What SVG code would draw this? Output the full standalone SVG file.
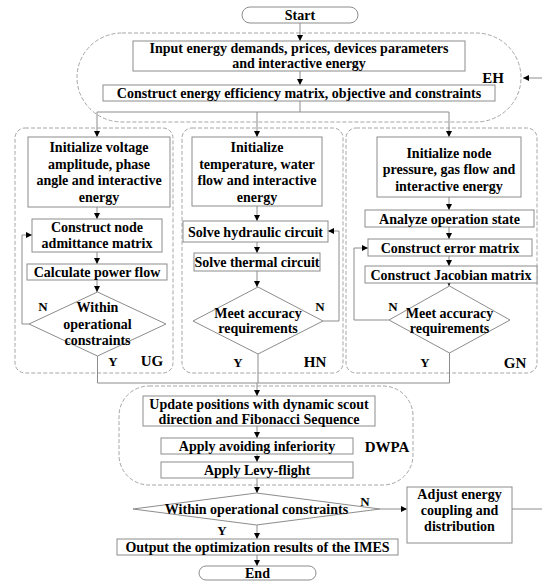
<svg xmlns="http://www.w3.org/2000/svg" width="542" height="581" viewBox="0 0 542 581">
<defs>
<marker id="ah" viewBox="0 0 6 6" refX="6" refY="3" markerWidth="6" markerHeight="6" orient="auto" markerUnits="userSpaceOnUse">
<path d="M0,0 L6,3 L0,6 Z" fill="#000"/>
</marker>
<style>
text{font-family:"Liberation Serif","Times New Roman",serif;font-weight:bold;font-size:14px;fill:#000;text-anchor:middle}
.lbl{font-size:15px}
.yn{font-size:13px}
.box{fill:#fff;stroke:#8c8c8c;stroke-width:1}
.reg{fill:none;stroke:#a6a6a6;stroke-width:1;stroke-dasharray:4 2}
.c{fill:none;stroke:#8c8c8c;stroke-width:1}
.a{marker-end:url(#ah)}
</style>
</defs>
<rect width="542" height="581" fill="#fff"/>

<g id="regions">
<rect id="EH" class="reg" x="77" y="33" width="444" height="89" rx="45" ry="45"/>
<rect id="UG" class="reg" x="15" y="128" width="158" height="245" rx="10"/>
<rect id="HN" class="reg" x="182" y="128" width="161" height="245" rx="10"/>
<rect id="GN" class="reg" x="346" y="128" width="191" height="245" rx="10"/>
<rect id="DWPA" class="reg" x="119" y="386" width="294" height="99" rx="30"/>
<text class="lbl" x="493" y="83">EH</text>
<text class="lbl" x="152" y="366">UG</text>
<text class="lbl" x="315" y="367">HN</text>
<text class="lbl" x="515" y="368">GN</text>
<text class="lbl" x="387" y="452">DWPA</text>
</g>

<g id="connectors">
<line class="c a" x1="300" y1="23" x2="300" y2="41"/>
<line class="c a" x1="300" y1="71" x2="300" y2="85"/>
<polyline class="c" points="300,101 300,112"/>
<line class="c" x1="97" y1="112" x2="449" y2="112"/>
<line class="c a" x1="97" y1="112" x2="97" y2="137"/>
<line class="c a" x1="257" y1="112" x2="257" y2="137"/>
<line class="c a" x1="449" y1="112" x2="449" y2="137"/>
<line class="c a" x1="542" y1="78" x2="523" y2="78"/>
<line class="c a" x1="97" y1="207" x2="97" y2="219"/>
<line class="c a" x1="97" y1="252" x2="97" y2="264"/>
<line class="c a" x1="97" y1="280" x2="97" y2="292"/>
<polyline class="c a" points="29,324 22,324 22,235 32,235"/>
<line class="c" x1="97.5" y1="356" x2="97.5" y2="383"/>
<line class="c a" x1="257" y1="206" x2="257" y2="221"/>
<line class="c a" x1="257" y1="242" x2="257" y2="253"/>
<line class="c a" x1="257" y1="271" x2="257" y2="287"/>
<polyline class="c a" points="323,321 339,321 339,231 328,231"/>
<line class="c" x1="258" y1="354" x2="258" y2="383"/>
<line class="c a" x1="449" y1="197" x2="449" y2="210"/>
<line class="c a" x1="449" y1="227" x2="449" y2="239"/>
<line class="c a" x1="449" y1="256" x2="449" y2="266"/>
<line class="c a" x1="449" y1="281" x2="449" y2="286"/>
<polyline class="c a" points="389,320 354,320 354,248 368,248"/>
<line class="c" x1="449.5" y1="353" x2="449.5" y2="383"/>
<line class="c" x1="97.5" y1="383" x2="449.5" y2="383"/>
<line class="c a" x1="257" y1="383" x2="257" y2="396"/>
<line class="c a" x1="257" y1="426" x2="257" y2="438"/>
<line class="c a" x1="257" y1="454" x2="257" y2="462"/>
<line class="c a" x1="257" y1="478" x2="257" y2="493"/>
<line class="c a" x1="380" y1="509" x2="407" y2="509"/>
<line class="c" x1="512" y1="509" x2="542" y2="509"/>
<line class="c a" x1="257" y1="525" x2="257" y2="539"/>
<line class="c a" x1="257" y1="555" x2="257" y2="566"/>
<text class="yn" x="43" y="311">N</text>
<text class="yn" x="113" y="366">Y</text>
<text class="yn" x="320" y="311">N</text>
<text class="yn" x="238" y="367">Y</text>
<text class="yn" x="393" y="311">N</text>
<text class="yn" x="425" y="367">Y</text>
<text class="yn" x="365" y="506">N</text>
<text class="yn" x="222" y="535">Y</text>
</g>

<g id="start"><rect class="box" x="242" y="7" width="116" height="16" rx="8"/><text x="300" y="20">Start</text></g>
<g id="input"><rect class="box" x="133" y="41" width="332" height="30"/><text x="299" y="53">Input energy demands, prices, devices parameters</text><text x="299" y="68">and interactive energy</text></g>
<g id="construct-eh"><rect class="box" x="103" y="85" width="392" height="16"/><text x="299" y="98">Construct energy efficiency matrix, objective and constraints</text></g>

<g id="ug-init"><rect class="box" x="28" y="137" width="142" height="70"/><text x="99" y="152">Initialize voltage</text><text x="99" y="168.5">amplitude, phase</text><text x="99" y="185">angle and interactive</text><text x="99" y="201.5">energy</text></g>
<g id="ug-admit"><rect class="box" x="32" y="219" width="130" height="33"/><text x="97" y="232">Construct node</text><text x="97" y="248">admittance matrix</text></g>
<g id="ug-flow"><rect class="box" x="27" y="264" width="140" height="16"/><text x="97" y="277">Calculate power flow</text></g>
<g id="ug-check"><polygon class="box" points="97.5,292 166,324 97.5,356 29,324"/><text x="97.5" y="311.5">Within</text><text x="97.5" y="328.5">operational</text><text x="97.5" y="345">constraints</text></g>

<g id="hn-init"><rect class="box" x="192" y="137" width="130" height="69"/><text x="257" y="152">Initialize</text><text x="257" y="168.5">temperature, water</text><text x="257" y="185">flow and interactive</text><text x="257" y="201.5">energy</text></g>
<g id="hn-hyd"><rect class="box" x="183" y="221" width="145" height="21"/><text x="255.5" y="236.5">Solve hydraulic circuit</text></g>
<g id="hn-therm"><rect class="box" x="194" y="253" width="126" height="18"/><text x="257" y="267">Solve thermal circuit</text></g>
<g id="hn-check"><polygon class="box" points="258,287 323,321 258,354 193,321"/><text x="258" y="317.5">Meet accuracy</text><text x="258" y="333">requirements</text></g>

<g id="gn-init"><rect class="box" x="377" y="137" width="144" height="60"/><text x="449" y="157.5">Initialize node</text><text x="449" y="174">pressure, gas flow and</text><text x="449" y="190.5">interactive energy</text></g>
<g id="gn-state"><rect class="box" x="365" y="210" width="169" height="17"/><text x="449.5" y="223.5">Analyze operation state</text></g>
<g id="gn-error"><rect class="box" x="368" y="239" width="164" height="17"/><text x="450" y="252.5">Construct error matrix</text></g>
<g id="gn-jac"><rect class="box" x="365" y="266" width="172" height="17"/><text x="451" y="279.5">Construct Jacobian matrix</text></g>
<g id="gn-check"><polygon class="box" points="449.5,286 510,320 449.5,353 389,320"/><text x="449.5" y="317.5">Meet accuracy</text><text x="449.5" y="333">requirements</text></g>

<g id="update"><rect class="box" x="143" y="396" width="232" height="30"/><text x="259" y="408.5">Update positions with dynamic scout</text><text x="259" y="423.5">direction and Fibonacci Sequence</text></g>
<g id="avoid"><rect class="box" x="161" y="438" width="192" height="16"/><text x="257" y="451">Apply avoiding inferiority</text></g>
<g id="levy"><rect class="box" x="161" y="462" width="192" height="16"/><text x="257" y="475">Apply Levy-flight</text></g>
<g id="final-check"><polygon class="box" points="256.5,493 380,509 256.5,525 133,509"/><text x="256.5" y="514">Within operational constraints</text></g>
<g id="adjust"><rect class="box" x="407" y="487" width="105" height="56"/><text x="459.5" y="498.5">Adjust energy</text><text x="459.5" y="514.5">coupling and</text><text x="459.5" y="530.5">distribution</text></g>
<g id="output"><rect class="box" x="117" y="539" width="281" height="16"/><text x="257.5" y="552">Output the optimization results of the IMES</text></g>
<g id="end"><rect class="box" x="199" y="566" width="117" height="14" rx="7"/><text x="257.5" y="578">End</text></g>
</svg>
